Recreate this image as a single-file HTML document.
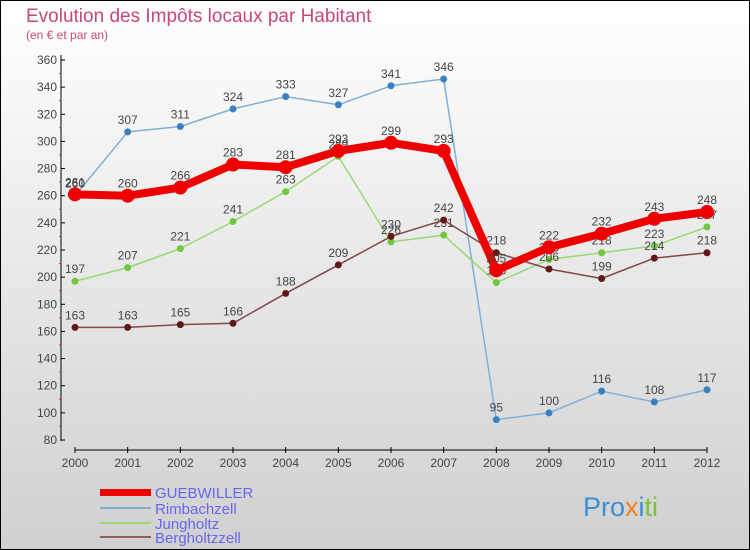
<!DOCTYPE html>
<html><head><meta charset="utf-8"><style>
body{margin:0}
#c{width:750px;height:550px;position:relative;overflow:hidden}
svg text{font-family:"Liberation Sans","DejaVu Sans",sans-serif}
</style></head><body>
<div id="c">
<svg id="s" width="750" height="550" xmlns="http://www.w3.org/2000/svg">
<defs><linearGradient id="bg" x1="0" y1="0" x2="0" y2="1"><stop offset="0" stop-color="#ffffff"/><stop offset="1" stop-color="#d0d0d0"/></linearGradient></defs>
<rect x="0.5" y="0.5" width="749" height="549" fill="url(#bg)" stroke="#000"/>
<text x="26" y="22" font-size="19" fill="#c8477a">Evolution des Impôts locaux par Habitant</text>
<text x="26" y="39" font-size="12" fill="#c8477a">(en € et par an)</text>
<g id="g"></g>
<g>
<rect x="100" y="489" width="51" height="7" fill="#e00"/>
<text x="155" y="498" font-size="15" fill="#6666ee">GUEBWILLER</text>
<rect x="100" y="507" width="51" height="2" fill="#80b0d0"/>
<text x="155" y="514" font-size="15" fill="#6666ee">Rimbachzell</text>
<rect x="100" y="522" width="51" height="2" fill="#9bd870"/>
<text x="155" y="529" font-size="15" fill="#6666ee">Jungholtz</text>
<rect x="100" y="536" width="51" height="2" fill="#906060"/>
<text x="155" y="543" font-size="15" fill="#6666ee">Bergholtzzell</text>
</g>
<text x="583" y="516" font-size="27" fill="#3a8fd8">Pro<tspan fill="#f08020">x</tspan><tspan fill="#3a8fd8">i</tspan><tspan fill="#7cc040">ti</tspan></text>
</svg></div>
<script>
const years=[2000,2001,2002,2003,2004,2005,2006,2007,2008,2009,2010,2011,2012];
const guebwiller=[261,260,266,283,281,293,299,293,205,222,232,243,248];
const rimbachzell=[260,307,311,324,333,327,341,346,95,100,116,108,117];
const jungholtz=[197,207,221,241,263,289,226,231,196,213,218,223,237];
const bergholtzzell=[163,163,165,166,188,209,230,242,218,206,199,214,218];
const yTicks=[80,100,120,140,160,180,200,220,240,260,280,300,320,340,360];
const NS="http://www.w3.org/2000/svg";
const g=document.getElementById('g');
function x(i){return 75+i*(707-75)/(years.length-1);}
function y(v){return 440-(v-80)*(380/280);}
function el(t,a,p){const e=document.createElementNS(NS,t);for(const k in a)e.setAttribute(k,a[k]);(p||g).appendChild(e);return e;}
let ax=el('line',{x1:61,y1:55,x2:61,y2:441,stroke:'#000'});


let bx=el('line',{x1:75,y1:450,x2:707,y2:450,stroke:'#000'});


yTicks.forEach((v,k)=>{
 el('line',{x1:61,y1:y(v),x2:65,y2:y(v),stroke:'#000'});
 if(k>0) el('line',{x1:59,y1:y(v)+13.5,x2:61,y2:y(v)+13.5,stroke:'#e33'});
 const t=el('text',{x:57,y:y(v)+4,'font-size':12,fill:'#444','text-anchor':'end'});
 t.textContent=v;
 
 
});
years.forEach((yr,i)=>{
 el('line',{x1:x(i),y1:447,x2:x(i),y2:453,stroke:'#000'});
 const t=el('text',{x:x(i),y:467,'font-size':12,fill:'#444','text-anchor':'middle'});
 t.textContent=yr;
 
 
});
function series(data,name,color,w,r,dot){
 const pts=data.map((v,i)=>x(i)+','+y(v)).join(' ');
 const pl=el('polyline',{points:pts,fill:'none',stroke:color,'stroke-width':w,'stroke-linejoin':'round'});
 
 
 data.forEach((v,i)=>{
  const c=el('circle',{cx:x(i),cy:y(v),r:r,fill:dot});
  
  
  const t=el('text',{x:x(i),y:y(v)-8,'font-size':12,fill:'#444','text-anchor':'middle'});
  t.textContent=v;
  
  
 });
}
series(rimbachzell,'rimbachzell','#80b0d8',1.5,3.5,'#3a80c0');
series(jungholtz,'jungholtz','#9bd870',1.5,3.5,'#70c840');
series(bergholtzzell,'bergholtzzell','#804848',1.5,3.5,'#601818');
series(guebwiller,'guebwiller','#ee0000',8,7,'#ee0000');
</script>
</body></html>
